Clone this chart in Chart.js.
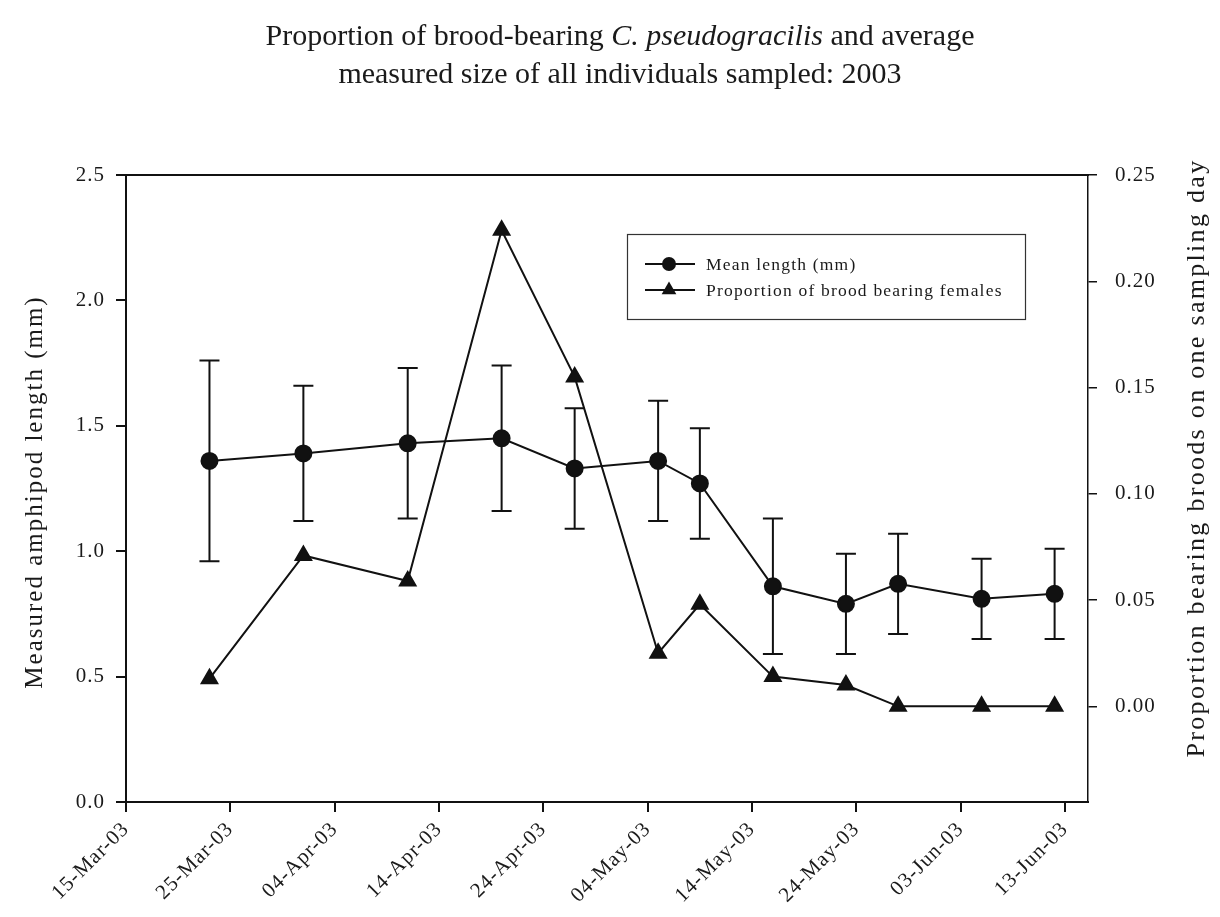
<!DOCTYPE html>
<html>
<head>
<meta charset="utf-8">
<script src="https://cdn.jsdelivr.net/npm/chart.js@4.4.1/dist/chart.umd.min.js"></script>
<style>
  html, body { margin: 0; padding: 0; background: #ffffff; }
  #wrap { position: relative; width: 1220px; height: 917px; overflow: hidden; }
  #c { position: absolute; left: 0; top: 0; }
  #title {
    position: absolute; left: 10px; top: 16px; width: 1220px; text-align: center;
    font-family: "Liberation Serif", "Times New Roman", serif; font-size: 30px;
    line-height: 38px; letter-spacing: 0px; color: #1a1a1a;
  }
</style>
</head>
<body>
<div id="wrap">
  <canvas id="c" width="1220" height="917"></canvas>
  <div id="title">Proportion of brood-bearing <i>C. pseudogracilis</i> and average<br>measured size of all individuals sampled: 2003</div>
</div>
<script>
// ---------------- data ----------------
const baseDate = '2003-03-15';
const sampleDates = ['2003-03-23','2003-04-01','2003-04-11','2003-04-20','2003-04-27','2003-05-05',
                     '2003-05-09','2003-05-16','2003-05-23','2003-05-28','2003-06-05','2003-06-12'];
const meanLength = [1.36, 1.39, 1.43, 1.45, 1.33, 1.36, 1.27, 0.86, 0.79, 0.87, 0.81, 0.83];
const lengthError = [0.40, 0.27, 0.30, 0.29, 0.24, 0.24, 0.22, 0.27, 0.20, 0.20, 0.16, 0.18];
const broodProportion = [0.013, 0.071, 0.059, 0.224, 0.155, 0.025, 0.048, 0.014, 0.010, 0.000, 0.000, 0.000];
const xTickDates = ['2003-03-15','2003-03-25','2003-04-04','2003-04-14','2003-04-24','2003-05-04',
                    '2003-05-14','2003-05-24','2003-06-03','2003-06-13'];
const xTickLabels = ['15-Mar-03','25-Mar-03','04-Apr-03','14-Apr-03','24-Apr-03','04-May-03',
                     '14-May-03','24-May-03','03-Jun-03','13-Jun-03'];
const xEndDate = '2003-06-15';
const leftTicks = [0.0, 0.5, 1.0, 1.5, 2.0, 2.5];
const rightTicks = [0.00, 0.05, 0.10, 0.15, 0.20, 0.25];
const seriesLabels = ['Mean length (mm)', 'Proportion of brood bearing females'];
const leftAxisTitle = 'Measured amphipod length (mm)';
const rightAxisTitle = 'Proportion bearing broods on one sampling day';

// day offsets from the base date (calendar conversion only)
const dayOf = s => Math.round((Date.parse(s + 'T00:00:00Z') - Date.parse(baseDate + 'T00:00:00Z')) / 86400000);
const sampleDays = sampleDates.map(dayOf);
const xTickDays = xTickDates.map(dayOf);

const INK = '#111111';
const SERIF = '"Liberation Serif", "Times New Roman", serif';

// ---------------- plugins ----------------
const spacingPlugin = {
  id: 'spacing',
  beforeDraw(chart) { chart.ctx.letterSpacing = '1px'; }
};

const frameAndErrorPlugin = {
  id: 'frameErr',
  beforeDatasetsDraw(chart) {
    const ctx = chart.ctx, ca = chart.chartArea;
    const xs = chart.scales.x, ys = chart.scales.y;
    ctx.save();
    ctx.strokeStyle = INK; ctx.lineWidth = 2;
    ctx.beginPath(); ctx.moveTo(ca.left - 1, ca.top); ctx.lineTo(ca.right + 1, ca.top); ctx.stroke();
    ctx.lineWidth = 2;
    sampleDays.forEach((d, i) => {
      const x = xs.getPixelForValue(d);
      const yt = ys.getPixelForValue(meanLength[i] + lengthError[i]);
      const yb = ys.getPixelForValue(meanLength[i] - lengthError[i]);
      ctx.beginPath();
      ctx.moveTo(x, yt); ctx.lineTo(x, yb);
      ctx.moveTo(x - 10, yt); ctx.lineTo(x + 10, yt);
      ctx.moveTo(x - 10, yb); ctx.lineTo(x + 10, yb);
      ctx.stroke();
    });
    ctx.restore();
  },
  afterDraw(chart) {
    const ctx = chart.ctx;
    ctx.save();
    ctx.fillStyle = '#1a1a1a';
    ctx.textAlign = 'center'; ctx.textBaseline = 'middle';
    ctx.font = '25px ' + SERIF;
    ctx.letterSpacing = '2px';
    ctx.save(); ctx.translate(35, 492); ctx.rotate(-Math.PI / 2); ctx.fillText(leftAxisTitle, 0, 0); ctx.restore();
    ctx.font = '26px ' + SERIF;
    ctx.letterSpacing = '2.3px';
    ctx.save(); ctx.translate(1197, 458); ctx.rotate(-Math.PI / 2); ctx.fillText(rightAxisTitle, 0, 0); ctx.restore();

    // legend box
    const bx = 627, by = 234, bw = 398, bh = 85;
    ctx.strokeStyle = '#333333'; ctx.lineWidth = 1.2;
    ctx.strokeRect(bx + 0.5, by + 0.5, bw, bh);
    const rows = [264, 290];
    ctx.font = '17.5px ' + SERIF;
    ctx.letterSpacing = '1.2px';
    ctx.textAlign = 'left';
    rows.forEach((ry, k) => {
      ctx.strokeStyle = INK; ctx.lineWidth = 1.8;
      ctx.beginPath(); ctx.moveTo(645, ry); ctx.lineTo(695, ry); ctx.stroke();
      ctx.fillStyle = INK;
      ctx.beginPath();
      if (k === 0) {
        ctx.arc(669, ry, 7, 0, Math.PI * 2);
      } else {
        const r = 8.5;
        ctx.moveTo(669, ry - r);
        ctx.lineTo(669 + r * Math.cos(Math.PI / 6), ry + r * 0.5);
        ctx.lineTo(669 - r * Math.cos(Math.PI / 6), ry + r * 0.5);
        ctx.closePath();
      }
      ctx.fill();
      ctx.fillStyle = '#1a1a1a';
      ctx.fillText(chart.data.datasets[k].label, 706, ry + 1);
    });
    ctx.restore();
  }
};

// ---------------- chart ----------------
const tickFont = { family: SERIF, size: 21 };
new Chart(document.getElementById('c'), {
  type: 'line',
  data: {
    datasets: [
      {
        label: seriesLabels[0],
        data: sampleDays.map((d, i) => ({ x: d, y: meanLength[i] })),
        yAxisID: 'y',
        borderColor: INK, backgroundColor: INK, borderWidth: 2,
        pointStyle: 'circle', pointRadius: 8, pointBackgroundColor: INK, pointBorderColor: INK,
        tension: 0
      },
      {
        label: seriesLabels[1],
        data: sampleDays.map((d, i) => ({ x: d, y: broodProportion[i] })),
        yAxisID: 'y2',
        borderColor: INK, backgroundColor: INK, borderWidth: 2,
        pointStyle: 'triangle', pointRadius: 9, pointBackgroundColor: INK, pointBorderColor: INK,
        tension: 0
      }
    ]
  },
  options: {
    responsive: false,
    animation: false,
    devicePixelRatio: 1,
    layout: { padding: { top: 175, left: 0, right: 0, bottom: 0 } },
    plugins: { legend: { display: false }, title: { display: false }, tooltip: { enabled: false } },
    scales: {
      x: {
        type: 'linear',
        min: 0, max: dayOf(xEndDate) + 0.2,
        afterBuildTicks: s => { s.ticks = xTickDays.map(v => ({ value: v })); },
        afterFit: s => { s.height = 115; },
        ticks: {
          autoSkip: false, minRotation: 45, maxRotation: 45, padding: 5,
          color: '#1a1a1a', font: { family: SERIF, size: 21 },
          callback: v => xTickLabels[xTickDays.indexOf(v)]
        },
        grid: { display: true, drawOnChartArea: false, drawTicks: true, tickLength: 10, color: INK, lineWidth: 2 },
        border: { display: true, color: INK, width: 2 }
      },
      y: {
        position: 'left',
        min: 0, max: 2.5,
        afterBuildTicks: s => { s.ticks = leftTicks.map(v => ({ value: v })); },
        afterFit: s => { s.width = 126; },
        ticks: { color: '#1a1a1a', font: tickFont, padding: 11, callback: v => v.toFixed(1) },
        grid: { display: true, drawOnChartArea: false, drawTicks: true, tickLength: 10, color: INK, lineWidth: 2 },
        border: { display: true, color: INK, width: 2 }
      },
      y2: {
        position: 'right',
        min: -0.045, max: 0.25,
        afterBuildTicks: s => { s.ticks = rightTicks.map(v => ({ value: v })); },
        afterFit: s => { s.width = 132; },
        ticks: { color: '#1a1a1a', font: tickFont, padding: 18, callback: v => v.toFixed(2) },
        grid: { display: true, drawOnChartArea: false, drawTicks: true, tickLength: 9, color: INK, lineWidth: 1.5 },
        border: { display: true, color: INK, width: 1.5 }
      }
    }
  },
  plugins: [spacingPlugin, frameAndErrorPlugin]
});
</script>
</body>
</html>
